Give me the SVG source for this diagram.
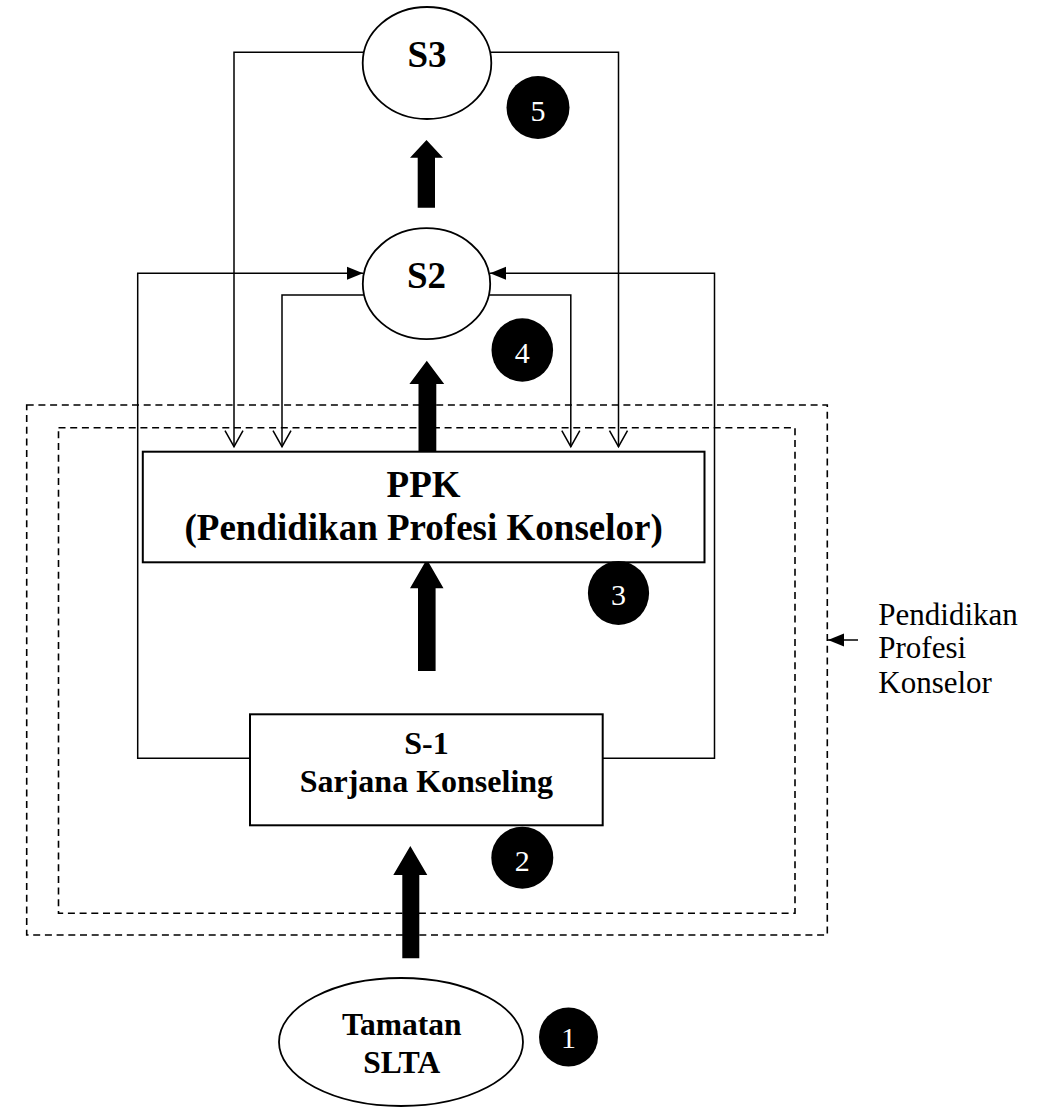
<svg xmlns="http://www.w3.org/2000/svg" width="1043" height="1110" viewBox="0 0 1043 1110">
<defs>
<style>
.node{fill:#fff;stroke:#000;stroke-width:1.8}
.box{fill:#fff;stroke:#000;stroke-width:2}
.t{font-family:"Liberation Serif","Times New Roman",serif;font-weight:bold;fill:#000;text-anchor:middle}
.num{font-family:"Liberation Serif","Times New Roman",serif;fill:#fff;text-anchor:middle;font-size:30px}
.lab{font-family:"Liberation Serif","Times New Roman",serif;fill:#000;font-size:31px}
.ln{fill:none;stroke:#000;stroke-width:1.5}
.dash{fill:none;stroke:#000;stroke-width:1.6;stroke-dasharray:7 4.7}
.blk{fill:#000;stroke:none}
</style>
<marker id="openV" markerUnits="userSpaceOnUse" orient="auto" refX="0" refY="0" markerWidth="20" markerHeight="20" overflow="visible">
<path d="M-16,-9 L0,0 L-16,9" fill="none" stroke="#000" stroke-width="1.5"/>
</marker>
<marker id="fillA" markerUnits="userSpaceOnUse" orient="auto" refX="0" refY="0" markerWidth="20" markerHeight="20" overflow="visible">
<path d="M-16,-6.5 L0,0 L-16,6.5 Z" fill="#000"/>
</marker>
</defs>
<rect width="1043" height="1110" fill="#fff"/>

<g id="boundary">
<rect class="dash" x="26.7" y="405" width="800.6" height="530"/>
<rect class="dash" x="58.5" y="427.7" width="736.5" height="485.6"/>
</g>

<g id="connectors">
<path class="ln" d="M363.5,52.3 H234 V446.7" marker-end="url(#openV)"/>
<path class="ln" d="M490.5,52.3 H618.5 V446.7" marker-end="url(#openV)"/>
<path class="ln" d="M363.8,295 H282 V446.7" marker-end="url(#openV)"/>
<path class="ln" d="M489.2,295 H570.8 V446.7" marker-end="url(#openV)"/>
<path class="ln" d="M250,758.3 H137.7 V273.3 H363" marker-end="url(#fillA)"/>
<path class="ln" d="M602.7,758.3 H714.5 V273.3 H490" marker-end="url(#fillA)"/>
<path class="ln" d="M858,640 H828" marker-end="url(#fillA)"/>
<polygon class="blk" points="426.5,140 443,157.7 435,157.7 435,207.7 417.7,207.7 417.7,157.7 410,157.7"/>
<polygon class="blk" points="426.8,360.7 444.2,384 436.3,384 436.3,451.7 418.5,451.7 418.5,384 409.4,384"/>
<polygon class="blk" points="426.8,559.3 443.5,588.3 435.6,588.3 435.6,671 418,671 418,588.3 410,588.3"/>
<polygon class="blk" points="410.3,846 427.3,875 419.3,875 419.3,958.3 402.3,958.3 402.3,875 393.3,875"/>
</g>

<g id="s3">
<ellipse class="node" cx="427" cy="63" rx="64.3" ry="56"/>
<text class="t" x="427" y="66.7" font-size="37">S3</text>
</g>
<g id="s2">
<ellipse class="node" cx="426.5" cy="283.7" rx="63.7" ry="55.5"/>
<text class="t" x="426.5" y="288.3" font-size="37">S2</text>
</g>
<g id="ppk">
<rect class="box" x="142.8" y="451.7" width="561.7" height="110.6"/>
<text class="t" x="423.6" y="496.7" font-size="37">PPK</text>
<text class="t" x="423.6" y="540" font-size="37">(Pendidikan Profesi Konselor)</text>
</g>
<g id="s1">
<rect class="box" x="250" y="714.3" width="352.7" height="111"/>
<text class="t" x="426.4" y="754.3" font-size="32">S-1</text>
<text class="t" x="426.4" y="791.7" font-size="32">Sarjana Konseling</text>
</g>
<g id="slta">
<ellipse class="node" cx="401" cy="1042" rx="122" ry="64"/>
<text class="t" x="401.7" y="1035" font-size="31.5">Tamatan</text>
<text class="t" x="401.7" y="1073.3" font-size="31.5">SLTA</text>
</g>

<g id="badge5"><circle cx="538" cy="107.5" r="31.5" fill="#000"/><text class="num" x="538" y="120.7">5</text></g>
<g id="badge4"><ellipse cx="522.3" cy="350" rx="30.8" ry="31.7" fill="#000"/><text class="num" x="522.3" y="363.3">4</text></g>
<g id="badge3"><ellipse cx="618.5" cy="593" rx="30.6" ry="32" fill="#000"/><text class="num" x="618.5" y="605">3</text></g>
<g id="badge2"><circle cx="522.3" cy="857.7" r="31" fill="#000"/><text class="num" x="522.3" y="870.7">2</text></g>
<g id="badge1"><circle cx="568.5" cy="1037" r="29.5" fill="#000"/><text class="num" x="568.5" y="1048.3">1</text></g>

<g id="label">
<text class="lab" x="878.3" y="625">Pendidikan</text>
<text class="lab" x="878.3" y="658.3">Profesi</text>
<text class="lab" x="878.3" y="693.3">Konselor</text>
</g>
</svg>
